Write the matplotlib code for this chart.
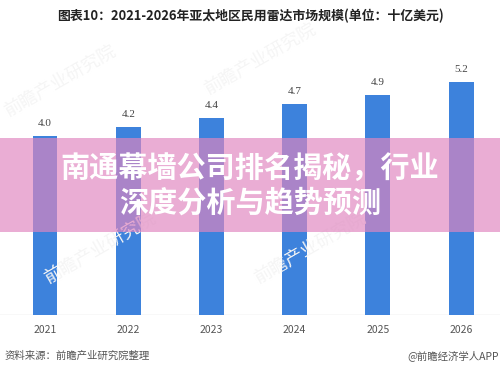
import matplotlib.pyplot as plt
from matplotlib.patches import Rectangle

plt.rcParams['font.family'] = ['Noto Sans CJK SC', 'DejaVu Sans']

years = ['2021', '2022', '2023', '2024', '2025', '2026']
values = [4.0, 4.2, 4.4, 4.7, 4.9, 5.2]
value_labels = ['4.0', '4.2', '4.4', '4.7', '4.9', '5.2']

title = '图表10：2021-2026年亚太地区民用雷达市场规模(单位：十亿美元)'
headline = '南通幕墙公司排名揭秘，行业\n深度分析与趋势预测'
source = '资料来源：前瞻产业研究院整理'
credit = '@前瞻经济学人APP'

fig = plt.figure(figsize=(5, 3.72), dpi=100)
ax = fig.add_axes([0, 0.153, 1, 0.723])

x = range(len(years))
ax.bar(x, values, width=0.3, color='#3d82dc', zorder=2)
for i, v in enumerate(values):
    ax.text(i, v + 0.18, value_labels[i], ha='center', va='bottom', fontsize=8,
            color='#444444', family=['Liberation Serif', 'DejaVu Serif'])

ax.set_xlim(-0.541, 5.468)
ax.set_ylim(0, 6)
ax.axhline(0, color='#dddddd', lw=1, zorder=1)
for s in ax.spines.values():
    s.set_visible(False)
ax.set_xticks(list(x))
ax.set_xticklabels(years, fontsize=7.5, color='#555555')
ax.tick_params(length=0, pad=7)
ax.set_yticks([])

# faint watermarks
for wx, wy in [(0.12, 0.78), (0.52, 0.84), (0.62, 0.33), (0.2, 0.33)]:
    fig.text(wx, wy, '前瞻产业研究院', fontsize=13, color='#f5f5f5', rotation=30,
             ha='center', va='center', zorder=0)

fig.text(0.5, 0.956, title, ha='center', va='center', fontsize=9.3,
         fontweight='bold', color='#222222')
fig.text(0.01, 0.045, source, ha='left', va='center', fontsize=7.5, color='#555555')
fig.text(0.998, 0.045, credit, ha='right', va='center', fontsize=7.5, color='#555555')

# pink banner over the chart
fig.patches.append(Rectangle((0, 0.376), 1, 0.253, transform=fig.transFigure,
                             facecolor=(0.88, 0.52, 0.75), alpha=0.67, lw=0, zorder=5))
fig.text(0.5, 0.503, headline, ha='center', va='center', fontsize=21,
         fontweight='bold', color='white', linespacing=1.2, zorder=6)

fig.savefig('out.png', dpi=100)
